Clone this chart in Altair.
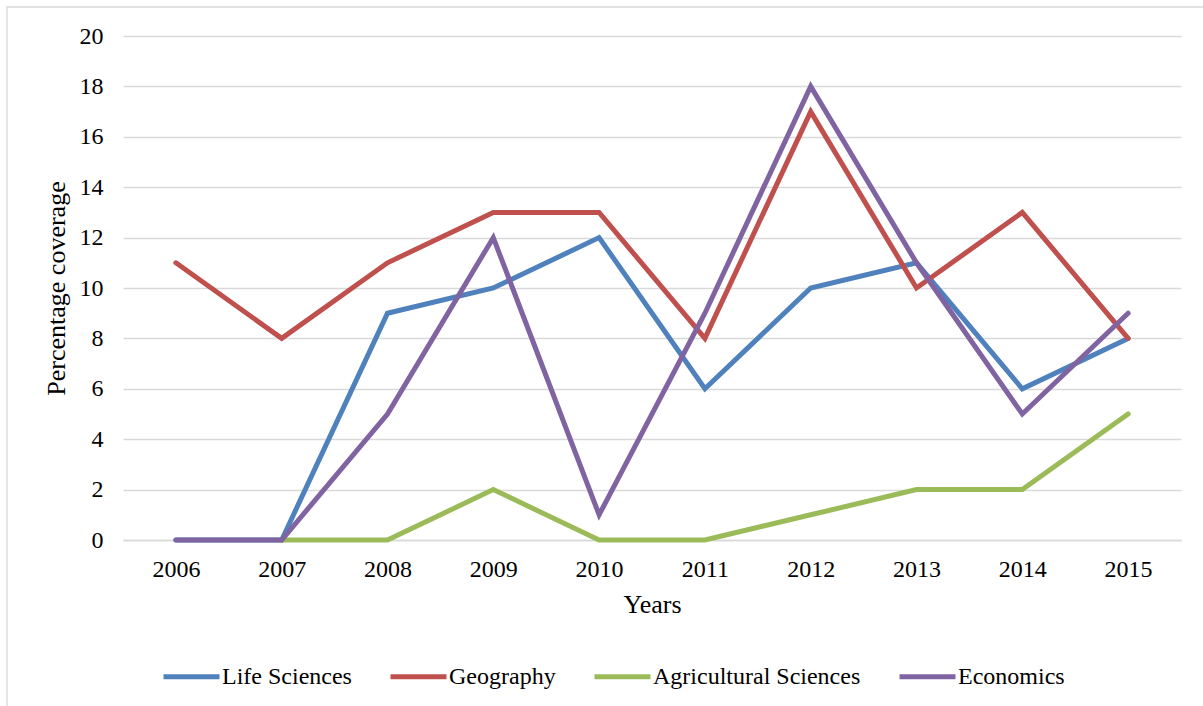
import altair as alt
import pandas as pd

years = ["2006", "2007", "2008", "2009", "2010", "2011", "2012", "2013", "2014", "2015"]
life_sciences = [0, 0, 9, 10, 12, 6, 10, 11, 6, 8]
geography = [11, 8, 11, 13, 13, 8, 17, 10, 13, 8]
agricultural = [None, 0, 0, 2, 0, 0, 1, 2, 2, 5]
economics = [0, 0, 5, 12, 1, 9, 18, 11, 5, 9]

series_names = ["Life Sciences", "Geography", "Agricultural Sciences", "Economics"]
series_values = [life_sciences, geography, agricultural, economics]
colors = ["#4F81BD", "#C0504D", "#9BBB59", "#8064A2"]

rows = []
for name, vals in zip(series_names, series_values):
    for i, (y, v) in enumerate(zip(years, vals)):
        rows.append({"Year": y, "Value": v, "Series": name, "order": i})
df = pd.DataFrame(rows)

FONT = "Liberation Serif"
W, H = 1058, 504
PL, PT = 123, 36

lines = alt.Chart(df).mark_line(strokeWidth=5, strokeCap="round").encode(
    x=alt.X("Year:O", sort=years,
            scale=alt.Scale(type="point", padding=0.5),
            axis=alt.Axis(title="Years", labelAngle=0, ticks=False, domain=True,
                          domainColor="#d9d9d9", domainWidth=1.3,
                          labelPadding=17, titlePadding=10,
                          labelFontSize=24, titleFontSize=26)),
    y=alt.Y("Value:Q", scale=alt.Scale(domain=[0, 20], nice=False),
            axis=alt.Axis(title="Percentage coverage", values=list(range(0, 21, 2)),
                          ticks=False, domain=False, grid=True,
                          gridColor="#d9d9d9", gridWidth=1.3,
                          labelPadding=20, titlePadding=10,
                          labelFontSize=24, titleFontSize=26)),
    color=alt.Color("Series:N", sort=series_names,
                    scale=alt.Scale(domain=series_names, range=colors),
                    legend=alt.Legend(title=None, orient="none", direction="horizontal",
                                      legendX=38, legendY=610, columns=4,
                                      symbolType="stroke", symbolSize=3136,
                                      symbolStrokeWidth=5, labelOffset=0,
                                      columnPadding=28, labelFontSize=24,
                                      labelLimit=0)),
    order=alt.Order("order:Q"),
)

border_df = pd.DataFrame({"a": [0]})
border = alt.Chart(border_df).mark_rect(fillOpacity=0, stroke="#d9d9d9", strokeWidth=1.3).encode(
    x=alt.value(7 - PL), x2=alt.value(1203 - PL + 5),
    y=alt.value(7 - PT), y2=alt.value(706 - PT + 5),
)

chart = alt.layer(border, lines).properties(
    width=W, height=H,
    background="white",
    autosize=alt.AutoSizeParams(type="none"),
    padding={"left": PL, "top": PT, "right": 1203 - PL - W, "bottom": 706 - PT - H},
).configure_view(stroke=None).configure_axis(
    labelFont=FONT, titleFont=FONT, labelColor="#000000", titleColor="#000000",
    titleFontWeight="normal",
).configure_legend(labelFont=FONT, labelColor="#000000")

chart.save("out.html", embed_options={"renderer": "svg", "actions": False})
